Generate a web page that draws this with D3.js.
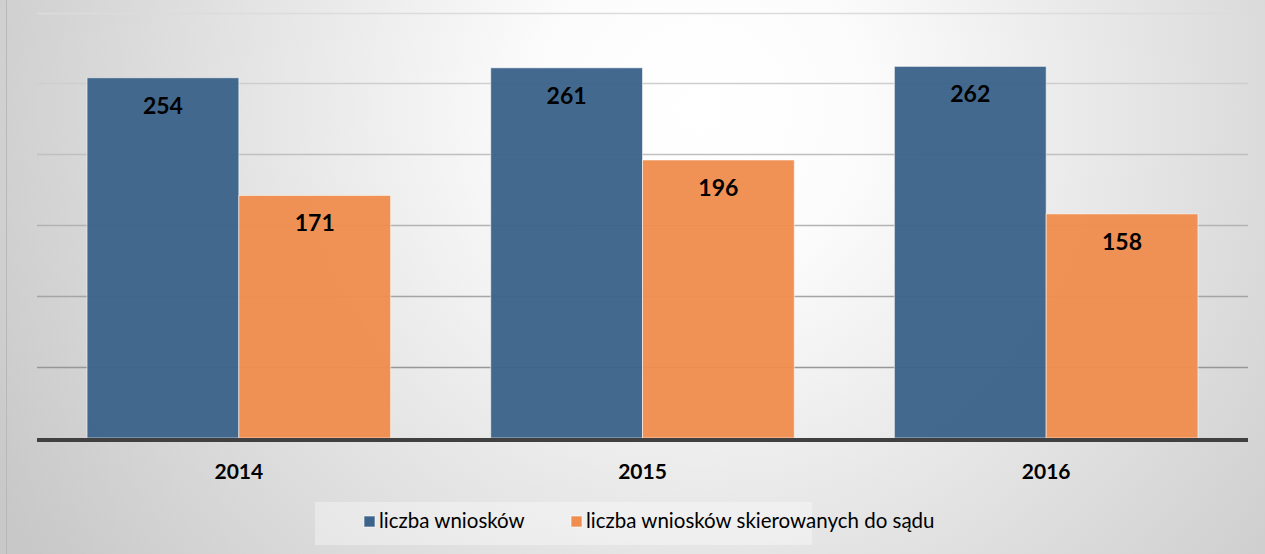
<!DOCTYPE html>
<html>
<head>
<meta charset="utf-8" />
<title>D3 - wnioski</title>
<style>
body { margin: 0; background: #fff; }
#graph { width: 1265px; height: 554px; }
</style>
</head>
<body>
<div id="graph"></div>
<script src="https://d3js.org/d3.v7.min.js"></script>
<script>
// dane
var years = ["2014", "2015", "2016"];
var seriesNames = ["liczba wniosków", "liczba wniosków skierowanych do sądu"];
var wnioski = [254, 261, 262];
var doSadu = [171, 196, 158];
var yTicks = [50, 100, 150, 200, 250, 300];

var colors = ["#3c6389", "#ef8e4f"];

var width = 1265, height = 554;
var plotLeft = 37, plotRight = 1248, plotTop = 12.5, base = 438;

var svg = d3.select("#graph").append("svg")
    .attr("width", width)
    .attr("height", height);

var defs = svg.append("defs");
var grad = defs.append("radialGradient")
    .attr("id", "bg")
    .attr("gradientUnits", "userSpaceOnUse")
    .attr("cx", 700).attr("cy", 110).attr("r", 800);
grad.append("stop").attr("offset", "0%").attr("stop-color", "#ffffff");
grad.append("stop").attr("offset", "20%").attr("stop-color", "#fcfcfc");
grad.append("stop").attr("offset", "100%").attr("stop-color", "#c8c8c8");

svg.append("rect")
    .attr("x", 0).attr("y", 0)
    .attr("width", width).attr("height", height)
    .attr("fill", "url(#bg)");

svg.append("line")
    .attr("x1", 6.5).attr("x2", 6.5)
    .attr("y1", 0).attr("y2", height)
    .attr("stroke", "#b8b8b8");

var x0 = d3.scaleBand()
    .domain(years)
    .range([plotLeft, plotRight])
    .paddingInner(0.248)
    .paddingOuter(0.124);

var x1 = d3.scaleBand()
    .domain([0, 1])
    .range([0, x0.bandwidth()]);

var y = d3.scaleLinear()
    .domain([0, 300])
    .range([base, plotTop]);

// linie siatki
var gridColor = d3.scaleLinear().domain([300, 50]).range(["#dcdcdc", "#979797"]);
svg.append("g").selectAll("line")
    .data(yTicks)
    .enter().append("line")
    .attr("x1", plotLeft).attr("x2", plotRight)
    .attr("y1", d => Math.round(y(d)) + 0.5)
    .attr("y2", d => Math.round(y(d)) + 0.5)
    .attr("stroke", d => gridColor(d))
    .attr("stroke-width", 1.5);

var rows = years.map((yr, i) => ({ year: yr, vals: [wnioski[i], doSadu[i]] }));

var groups = svg.append("g").selectAll("g")
    .data(rows)
    .enter().append("g")
    .attr("transform", d => "translate(" + x0(d.year) + ",0)");

groups.selectAll("rect")
    .data(d => d.vals.map((v, k) => ({ k: k, v: v })))
    .enter().append("rect")
    .attr("x", d => x1(d.k))
    .attr("y", d => y(d.v))
    .attr("width", x1.bandwidth())
    .attr("height", d => base - y(d.v))
    .attr("fill", d => colors[d.k])
    .attr("fill-opacity", 0.96)
    .attr("stroke", "rgba(255,255,255,0.55)")
    .attr("stroke-width", 1);

groups.selectAll("text")
    .data(d => d.vals.map((v, k) => ({ k: k, v: v })))
    .enter().append("text")
    .attr("x", d => x1(d.k) + x1.bandwidth() / 2)
    .attr("y", d => y(d.v) + 36)
    .attr("text-anchor", "middle")
    .style("font-family", "Lato, 'Open Sans', sans-serif")
    .style("font-weight", "bold")
    .style("font-size", "23px")
    .attr("fill", "#000")
    .text(d => d.v);

// os X
svg.append("rect")
    .attr("x", plotLeft).attr("y", base)
    .attr("width", plotRight - plotLeft).attr("height", 4)
    .attr("fill", "#404040");

svg.append("g").selectAll("text")
    .data(years)
    .enter().append("text")
    .attr("x", d => x0(d) + x0.bandwidth() / 2)
    .attr("y", 479)
    .attr("text-anchor", "middle")
    .style("font-family", "Lato, 'Open Sans', sans-serif")
    .style("font-weight", "bold")
    .style("font-size", "21px")
    .attr("fill", "#000")
    .text(d => d);

// legenda
var legend = svg.append("g");
legend.append("rect")
    .attr("x", 315).attr("y", 502)
    .attr("width", 497).attr("height", 43)
    .attr("fill", "#ffffff").attr("fill-opacity", 0.35);

var legX = [364, 571];
var items = legend.selectAll("g")
    .data(seriesNames)
    .enter().append("g")
    .attr("transform", (d, i) => "translate(" + legX[i] + ",516)");

items.append("rect")
    .attr("width", 11).attr("height", 11)
    .attr("fill", (d, i) => colors[i])
    .attr("stroke", "rgba(255,255,255,0.6)");

items.append("text")
    .attr("x", 15).attr("y", 12)
    .style("font-family", "Lato, 'Open Sans', sans-serif")
    .style("font-size", "20.5px")
    .attr("fill", "#000")
    .text(d => d);
</script>
</body>
</html>
